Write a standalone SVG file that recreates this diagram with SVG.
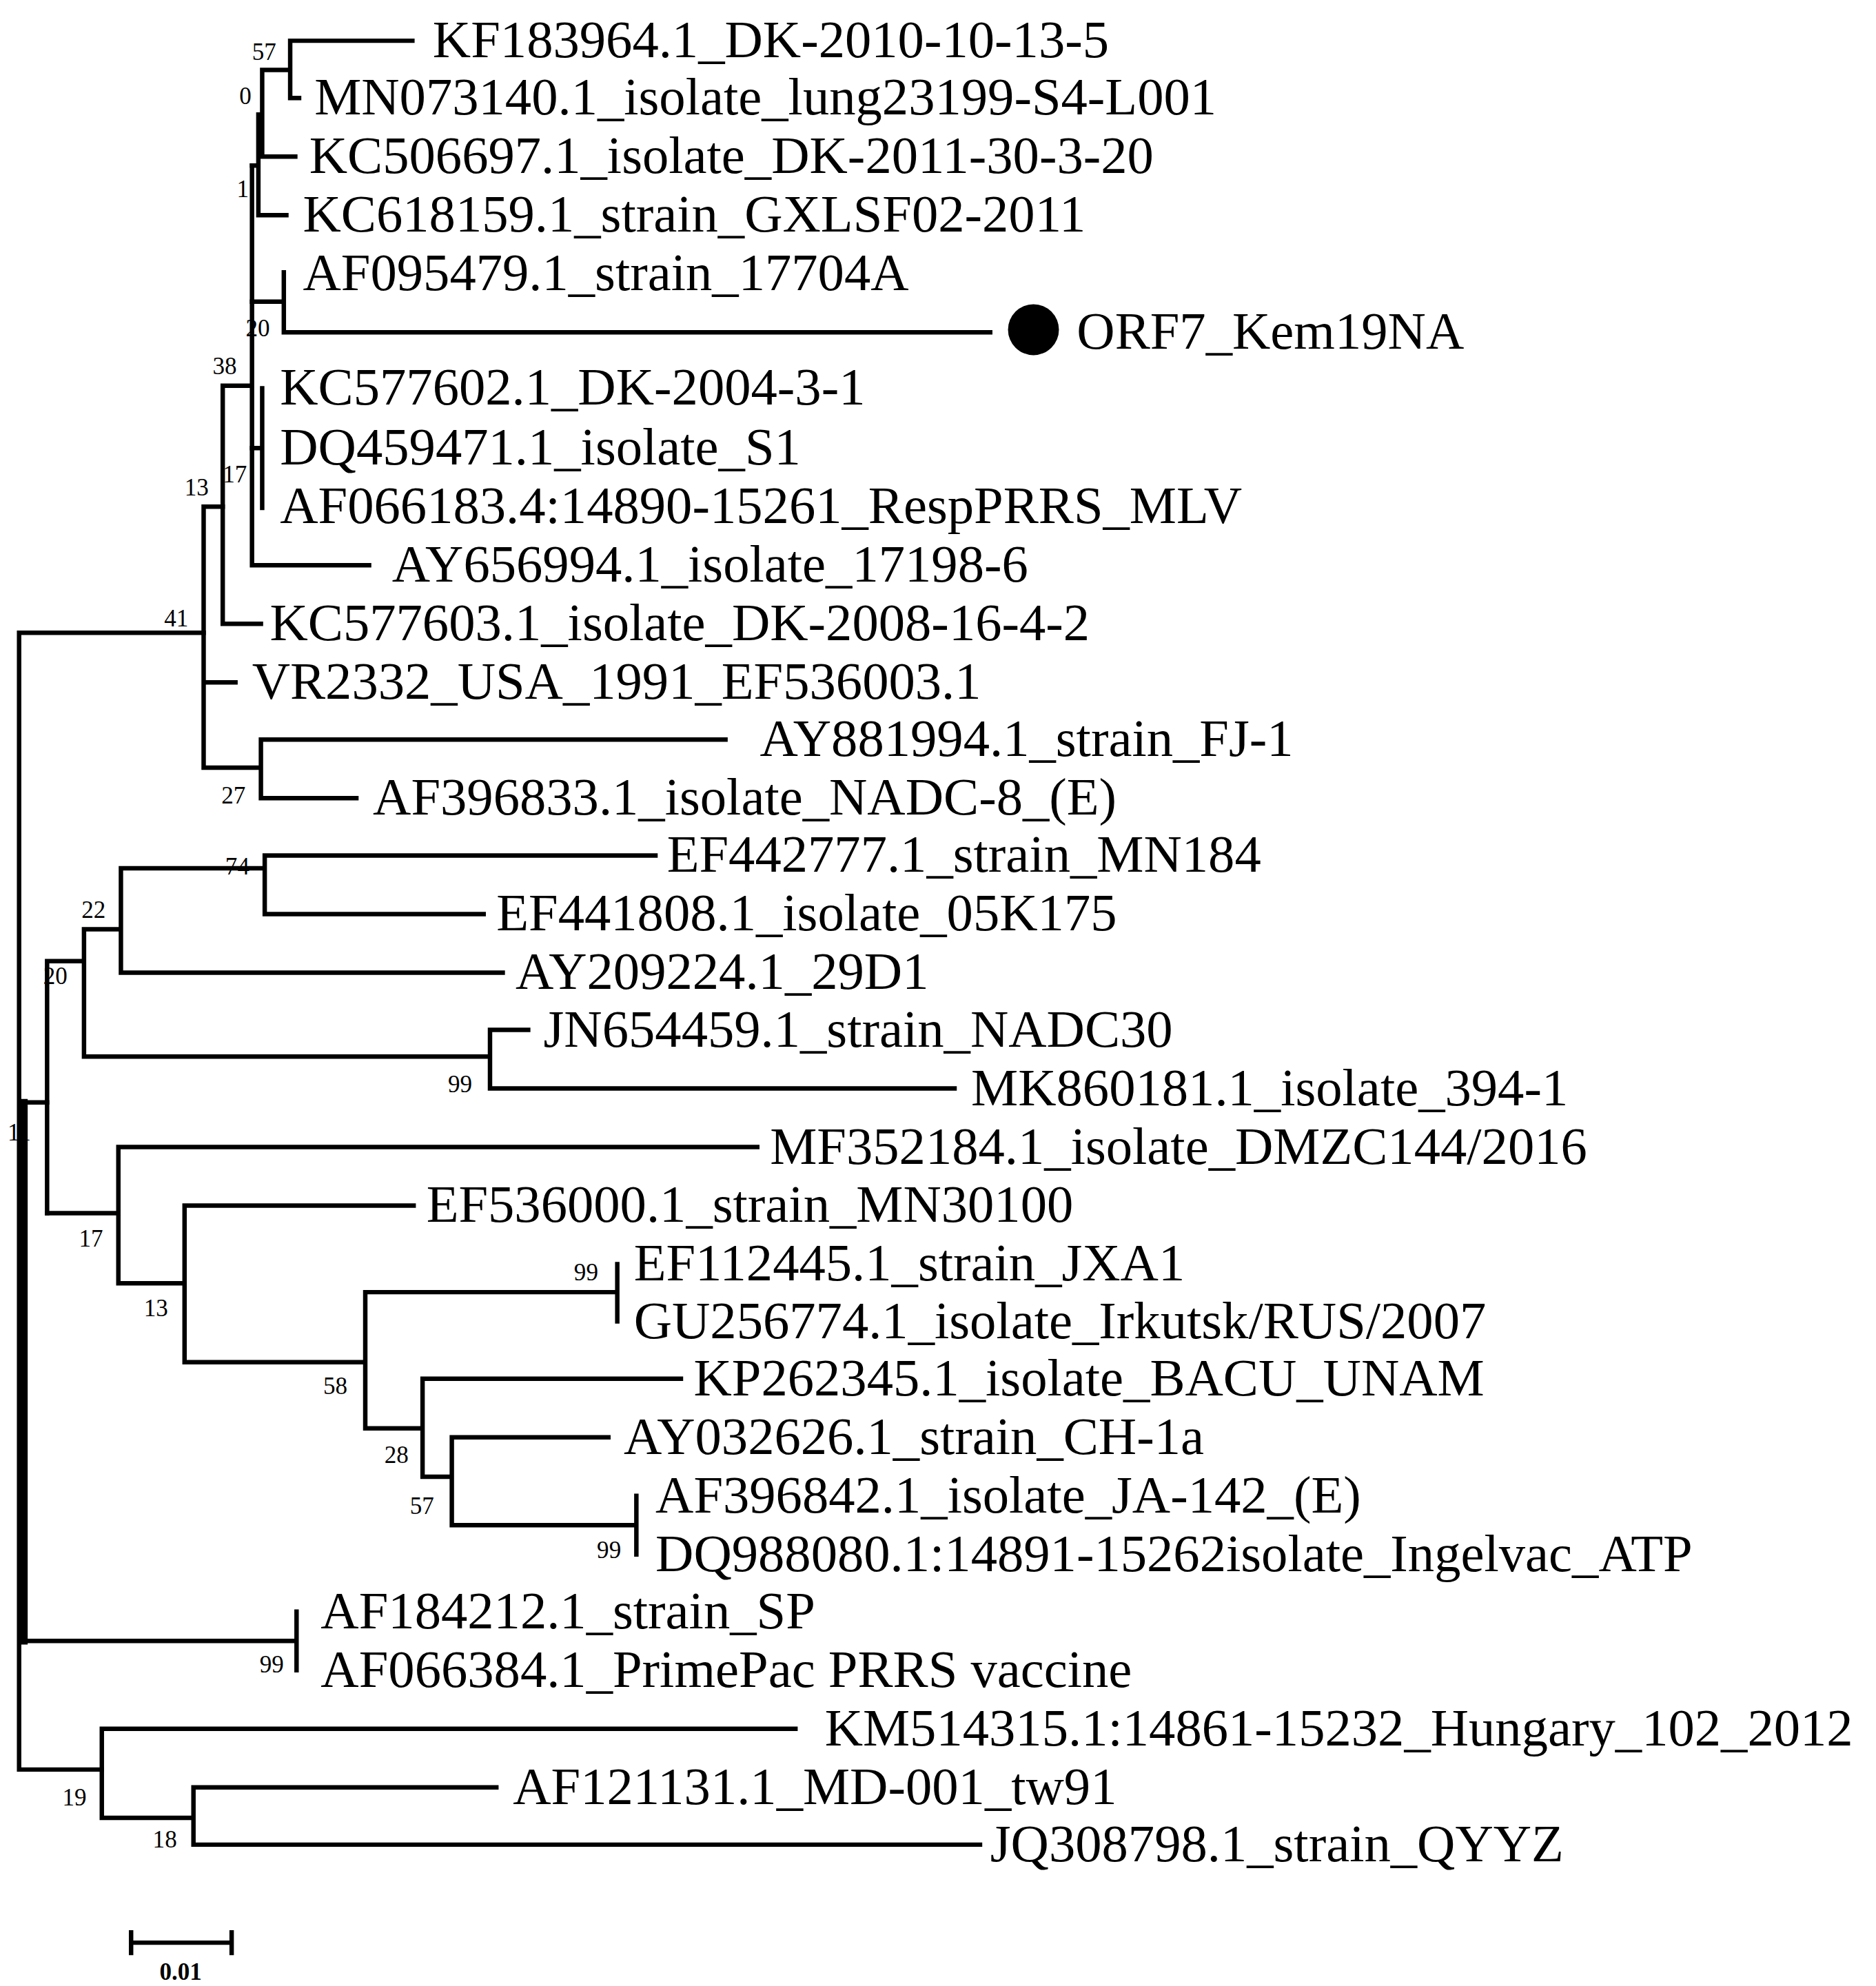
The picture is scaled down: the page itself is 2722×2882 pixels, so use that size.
<svg xmlns="http://www.w3.org/2000/svg" width="2722" height="2882" viewBox="0 0 2722 2882">
<style>
.b{fill:none;stroke:#000;stroke-width:3.5;stroke-linecap:square}
.t{font-family:"Liberation Serif","Times New Roman",serif;font-size:41.5px;fill:#000}
.n{font-family:"Liberation Serif","Times New Roman",serif;font-size:19px;fill:#000}
</style>
<rect width="2722" height="2882" fill="#fff"/>
<g transform="scale(1.8467,1.8474)">
<g id="connectors">
<path class="b" d="M15,497H160M15,497V1390H80M19,866H37"/>
<path class="b" d="M19,866V1289" style="stroke-width:5.5"/>
<path class="b" d="M19,1289H233M233,1266V1312"/>
<path class="b" d="M160,398V603M160,398H175M160,536H185M160,603H205M205,581V627M205,581H570M205,627H280"/>
<path class="b" d="M175,303V490M175,490H205M175,303H198M198,130V444M198,444H290"/>
<path class="b" d="M198,130H203M203,90V169M203,169H225M203,90H206M206,55V123M206,123H232M206,55H228M228,32V77M228,32H324M228,77H235"/>
<path class="b" d="M198,237H223M223,214V261M223,261H778"/>
<path class="b" d="M198,352H206M206,305V399"/>
<path class="b" d="M37,755V953M37,755H66M66,730V830M66,730H95M95,682V764M95,764H395M95,682H208M208,672V718M208,672H515M208,718H380M66,830H385M385,809V855M385,809H415M385,855H750"/>
<path class="b" d="M37,953H93M93,901V1008M93,901H595M93,1008H145M145,947V1070M145,947H325M145,1070H287M287,1015V1122M287,1015H485M485,993V1038M287,1122H332M332,1083V1160M332,1083H535M332,1160H355M355,1129V1198M355,1129H478M355,1198H500M500,1175V1221"/>
<path class="b" d="M80,1358V1428M80,1358H625M80,1428H152M152,1404V1449M152,1404H390M152,1449H770"/>
</g>
<g id="leaves">
<text class="t" x="340" y="45">KF183964.1_DK-2010-10-13-5</text>
<text class="t" x="247" y="90">MN073140.1_isolate_lung23199-S4-L001</text>
<text class="t" x="243" y="136">KC506697.1_isolate_DK-2011-30-3-20</text>
<text class="t" x="238" y="182">KC618159.1_strain_GXLSF02-2011</text>
<text class="t" x="238" y="228">AF095479.1_strain_17704A</text>
<g id="orf7"><circle cx="812" cy="259" r="20" fill="#000"/><text class="t" x="846" y="274">ORF7_Kem19NA</text></g>
<text class="t" x="220" y="318">KC577602.1_DK-2004-3-1</text>
<text class="t" x="220" y="365">DQ459471.1_isolate_S1</text>
<text class="t" x="220" y="411">AF066183.4:14890-15261_RespPRRS_MLV</text>
<text class="t" x="308" y="457">AY656994.1_isolate_17198-6</text>
<text class="t" x="212" y="503">KC577603.1_isolate_DK-2008-16-4-2</text>
<text class="t" x="198" y="549">VR2332_USA_1991_EF536003.1</text>
<text class="t" x="597" y="594">AY881994.1_strain_FJ-1</text>
<text class="t" x="293" y="640">AF396833.1_isolate_NADC-8_(E)</text>
<text class="t" x="524" y="685">EF442777.1_strain_MN184</text>
<text class="t" x="390" y="731">EF441808.1_isolate_05K175</text>
<text class="t" x="405" y="777">AY209224.1_29D1</text>
<text class="t" x="427" y="822">JN654459.1_strain_NADC30</text>
<text class="t" x="763" y="868">MK860181.1_isolate_394-1</text>
<text class="t" x="605" y="914">MF352184.1_isolate_DMZC144/2016</text>
<text class="t" x="335" y="960">EF536000.1_strain_MN30100</text>
<text class="t" x="498" y="1006">EF112445.1_strain_JXA1</text>
<text class="t" x="498" y="1051">GU256774.1_isolate_Irkutsk/RUS/2007</text>
<text class="t" x="545" y="1096">KP262345.1_isolate_BACU_UNAM</text>
<text class="t" x="490" y="1142">AY032626.1_strain_CH-1a</text>
<text class="t" x="515" y="1188">AF396842.1_isolate_JA-142_(E)</text>
<text class="t" x="515" y="1234">DQ988080.1:14891-15262isolate_Ingelvac_ATP</text>
<text class="t" x="252" y="1279">AF184212.1_strain_SP</text>
<text class="t" x="252" y="1325">AF066384.1_PrimePac PRRS vaccine</text>
<text class="t" x="648" y="1371">KM514315.1:14861-15232_Hungary_102_2012</text>
<text class="t" x="403" y="1417">AF121131.1_MD-001_tw91</text>
<text class="t" x="778" y="1462">JQ308798.1_strain_QYYZ</text>
</g>
<g id="support">
<text class="n" x="198" y="47">57</text>
<text class="n" x="188" y="82">0</text>
<text class="n" x="186" y="155">1</text>
<text class="n" x="193" y="264">20</text>
<text class="n" x="167" y="294">38</text>
<text class="n" x="175" y="379">17</text>
<text class="n" x="145" y="389">13</text>
<text class="n" x="129" y="492">41</text>
<text class="n" x="174" y="631">27</text>
<text class="n" x="177" y="687">74</text>
<text class="n" x="64" y="721">22</text>
<text class="n" x="34" y="773">20</text>
<text class="n" x="352" y="858">99</text>
<text class="n" x="6" y="896">11</text>
<text class="n" x="62" y="979">17</text>
<text class="n" x="113" y="1034">13</text>
<text class="n" x="451" y="1006">99</text>
<text class="n" x="254" y="1095">58</text>
<text class="n" x="302" y="1149">28</text>
<text class="n" x="322" y="1189">57</text>
<text class="n" x="469" y="1224">99</text>
<text class="n" x="204" y="1314">99</text>
<text class="n" x="49" y="1418">19</text>
<text class="n" x="120" y="1451">18</text>
</g>
<g id="scale">
<path class="b" d="M103,1526H182M103,1518V1534M182,1518V1534"/>
<text class="n" x="142" y="1555" text-anchor="middle" font-weight="bold">0.01</text>
</g>
</g>
</svg>
